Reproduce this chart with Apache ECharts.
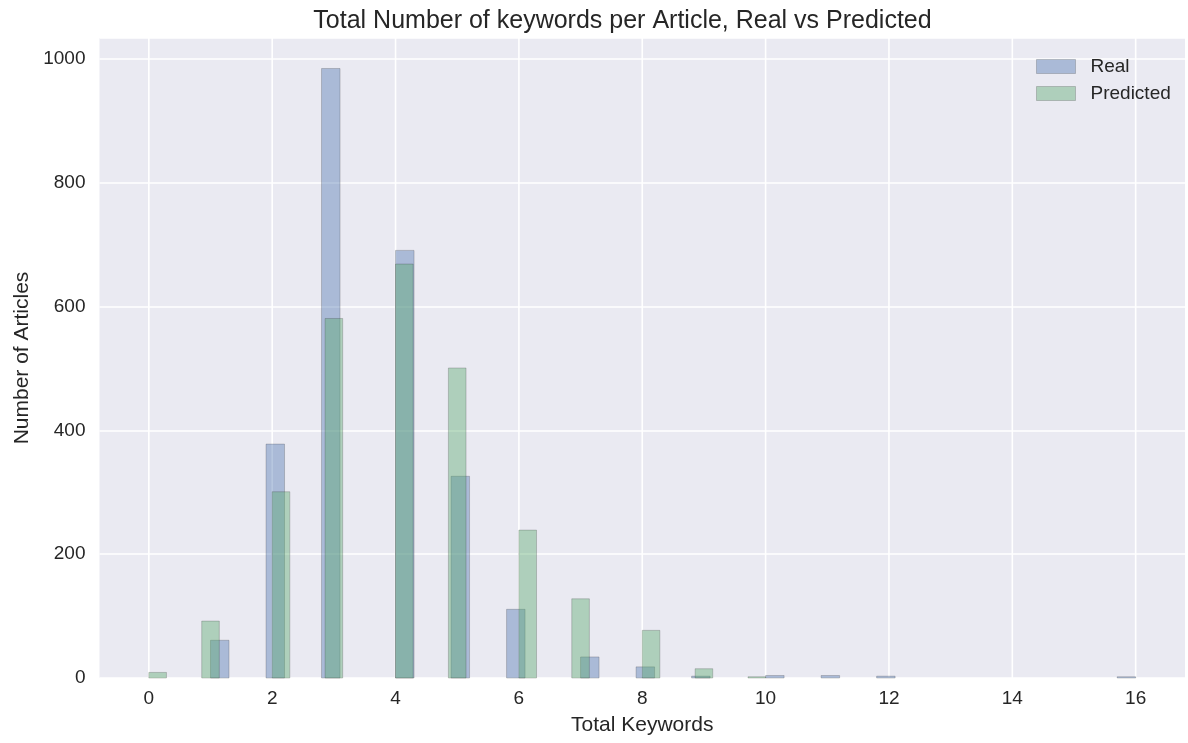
<!DOCTYPE html>
<html>
<head>
<meta charset="utf-8">
<script src="https://cdn.jsdelivr.net/npm/echarts@6/dist/echarts.min.js"></script>
<style>
  html, body { margin: 0; padding: 0; background: #ffffff; }
  #chart { width: 1188px; height: 743px; }
</style>
</head>
<body>
<div id="chart"></div>
<script>
// ---- data ----
const titleText = 'Total Number of keywords per Article, Real vs Predicted';
const xAxisName = 'Total Keywords';
const yAxisName = 'Number of Articles';
const seriesNames = ['Real', 'Predicted'];

const realKeywords = [1, 2, 3, 4, 5, 6, 7, 8, 9, 10, 11, 12, 16];
const realCounts   = [61, 378, 985, 691, 326, 111, 34, 18, 3, 4, 4, 3, 2];
const realBinRange = [1, 16];
const realBinCount = 50;

const predKeywords = [0, 1, 2, 3, 4, 5, 6, 7, 8, 9, 10];
const predCounts   = [9, 92, 301, 581, 669, 501, 239, 128, 77, 15, 2];
const predBinRange = [0, 10];
const predBinCount = 35;

const xTickValues = [0, 2, 4, 6, 8, 10, 12, 14, 16];
const yTickValues = [0, 200, 400, 600, 800, 1000];

// ---- histogram bins (same rule as matplotlib: equal bins, last bin closed) ----
function toBins(values, counts, range, nBins) {
  const w = (range[1] - range[0]) / nBins;
  return values.map(function (v, i) {
    let k = Math.floor((v - range[0]) / w + 1e-9);
    if (k >= nBins) k = nBins - 1;
    const x0 = range[0] + k * w;
    return [x0, x0 + w, counts[i]];
  });
}
const realData = toBins(realKeywords, realCounts, realBinRange, realBinCount);
const predData = toBins(predKeywords, predCounts, predBinRange, predBinCount);

const xMin = -0.8, xMax = 16.8;
const yMax = 985 * 1.05;

const realFill = 'rgba(76,114,176,0.4)';
const predFill = 'rgba(85,168,104,0.4)';
const edge = 'rgba(40,40,40,0.22)';

function barRenderer(fill) {
  return function (params, api) {
    const p0 = api.coord([api.value(0), api.value(2)]);
    const p1 = api.coord([api.value(1), 0]);
    return {
      type: 'rect',
      shape: { x: p0[0], y: p0[1], width: p1[0] - p0[0], height: p1[1] - p0[1] },
      style: { fill: fill, stroke: edge, lineWidth: 1 }
    };
  };
}

const chart = echarts.init(document.getElementById('chart'), null, { renderer: 'canvas' });
const textColor = '#262626';
const font = 'Liberation Sans, Arial, sans-serif';

chart.setOption({
  backgroundColor: '#ffffff',
  animation: false,
  textStyle: { fontFamily: font },
  graphic: [{
    type: 'text',
    x: 622.5,
    y: 21,
    style: {
      text: titleText,
      fill: textColor,
      font: '25px ' + font,
      textAlign: 'center',
      textVerticalAlign: 'middle'
    }
  }],
  grid: {
    left: 99.5, top: 38, width: 1094, bottom: 65,
    show: true, backgroundColor: '#EAEAF2', borderWidth: 0
  },
  legend: {
    orient: 'vertical',
    left: 1036, top: 57,
    padding: 0,
    itemWidth: 39, itemHeight: 14, itemGap: 8,
    icon: 'rect',
    textStyle: { fontSize: 19, color: textColor, fontFamily: font, lineHeight: 14, padding: [2, 0, 0, 10] },
    data: [
      { name: seriesNames[0], itemStyle: { color: realFill, borderColor: edge, borderWidth: 1 } },
      { name: seriesNames[1], itemStyle: { color: predFill, borderColor: edge, borderWidth: 1 } }
    ]
  },
  xAxis: {
    type: 'value',
    min: xMin, max: xMax, interval: 0.4,
    name: xAxisName, nameLocation: 'middle', nameGap: 37,
    nameTextStyle: { fontSize: 21, color: textColor, fontFamily: font },
    axisLine: { show: false }, axisTick: { show: false },
    splitLine: { show: false },
    axisLabel: {
      fontSize: 19, color: textColor, margin: 11, fontFamily: font,
      formatter: function (v) {
        for (let i = 0; i < xTickValues.length; i++) {
          if (Math.abs(v - xTickValues[i]) < 1e-6) return String(xTickValues[i]);
        }
        return '';
      }
    }
  },
  yAxis: {
    type: 'value',
    min: 0, max: yMax, interval: 200,
    name: yAxisName, nameLocation: 'middle', nameGap: 67,
    nameTextStyle: { fontSize: 21, color: textColor, fontFamily: font },
    axisLine: { show: false }, axisTick: { show: false },
    splitLine: { show: true, lineStyle: { color: '#ffffff', width: 1.6 } },
    axisLabel: {
      fontSize: 19, color: textColor, margin: 14, fontFamily: font,
      showMaxLabel: false,
      formatter: function (v) {
        for (let i = 0; i < yTickValues.length; i++) {
          if (Math.abs(v - yTickValues[i]) < 1e-6) return String(yTickValues[i]);
        }
        return '';
      }
    }
  },
  series: [
    {
      name: 'xgrid',
      type: 'custom',
      silent: true,
      z: 1,
      data: xTickValues.map(function (v) { return [v]; }),
      encode: { x: 0 },
      renderItem: function (params, api) {
        const a = api.coord([api.value(0), 0]);
        const b = api.coord([api.value(0), yMax]);
        return { type: 'line', shape: { x1: a[0], y1: a[1], x2: b[0], y2: b[1] },
                 style: { stroke: '#ffffff', lineWidth: 1.6 } };
      }
    },
    {
      name: seriesNames[0],
      type: 'custom',
      z: 2,
      itemStyle: { color: realFill, borderColor: edge, borderWidth: 1 },
      data: realData,
      encode: { x: [0, 1], y: 2 },
      renderItem: barRenderer(realFill)
    },
    {
      name: seriesNames[1],
      type: 'custom',
      z: 3,
      itemStyle: { color: predFill, borderColor: edge, borderWidth: 1 },
      data: predData,
      encode: { x: [0, 1], y: 2 },
      renderItem: barRenderer(predFill)
    }
  ]
});
</script>
</body>
</html>
